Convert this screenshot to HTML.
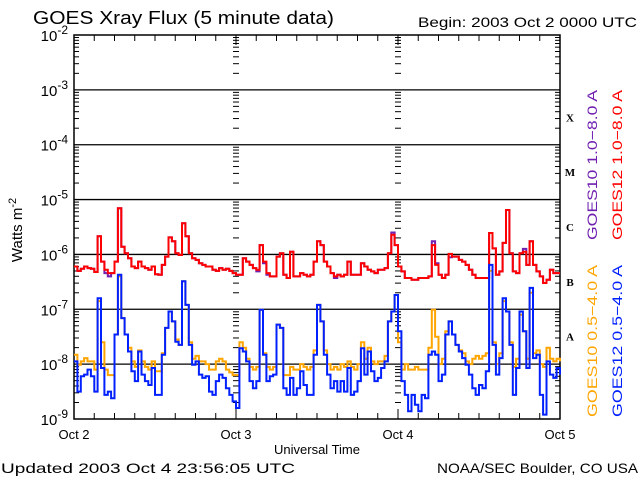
<!DOCTYPE html>
<html><head><meta charset="utf-8"><style>
html,body{margin:0;padding:0;background:#fff;}
svg{display:block;font-family:"Liberation Sans",sans-serif;}
</style></head><body>
<svg id="chart" width="640" height="480" viewBox="0 0 640 480" xmlns="http://www.w3.org/2000/svg">
<rect width="640" height="480" fill="#fff"/>
<text x="33" y="24" font-size="18" textLength="301" lengthAdjust="spacingAndGlyphs">GOES Xray Flux (5 minute data)</text>
<text x="418" y="27" font-size="14" textLength="219" lengthAdjust="spacingAndGlyphs">Begin:  2003 Oct 2 0000 UTC</text>
<text transform="translate(22,230) rotate(-90)" text-anchor="middle" font-size="15">Watts m<tspan dy="-6" font-size="11">-2</tspan></text>
<text x="317" y="454" text-anchor="middle" font-size="13">Universal Time</text>
<text x="1" y="473" font-size="14" textLength="294" lengthAdjust="spacingAndGlyphs">Updated 2003 Oct  4 23:56:05 UTC</text>
<text x="437" y="473" font-size="14" textLength="201" lengthAdjust="spacingAndGlyphs">NOAA/SEC Boulder, CO USA</text>
<text transform="translate(597,240) rotate(-90)" font-size="14" fill="#7020b0" textLength="150" lengthAdjust="spacingAndGlyphs">GOES10 1.0−8.0 A</text>
<text transform="translate(622,240) rotate(-90)" font-size="14" fill="#ff0000" textLength="150" lengthAdjust="spacingAndGlyphs">GOES12 1.0−8.0 A</text>
<text transform="translate(597,417) rotate(-90)" font-size="14" fill="#ffa500" textLength="152" lengthAdjust="spacingAndGlyphs">GOES10 0.5−4.0 A</text>
<text transform="translate(622,417) rotate(-90)" font-size="14" fill="#0020ff" textLength="152" lengthAdjust="spacingAndGlyphs">GOES12 0.5−4.0 A</text>
<g id="axes"></g>
<g id="series"></g>
</svg>
<script>
const dayLabels = ["Oct 2","Oct 3","Oct 4","Oct 5"];
const decadeExponents = [-2,-3,-4,-5,-6,-7,-8,-9];
const flareClasses = ["X","M","C","B","A"];
const flareClassExp = [-3,-4,-5,-6,-7];
const stepHours = 0.5;
const goes12Long = [-6.22,-6.30,-6.26,-6.22,-6.25,-6.26,-6.32,-5.67,-6.13,-6.28,-6.34,-6.34,-6.13,-5.16,-5.86,-5.98,-6.07,-6.22,-6.25,-6.13,-6.22,-6.25,-6.28,-6.22,-6.36,-6.37,-6.19,-6.04,-5.69,-5.76,-5.98,-6.01,-5.43,-5.67,-5.98,-6.07,-6.10,-6.16,-6.19,-6.22,-6.22,-6.28,-6.30,-6.25,-6.28,-6.26,-6.30,-6.34,
-6.37,-6.37,-6.07,-6.13,-6.19,-6.25,-6.28,-5.83,-6.13,-6.34,-6.40,-6.40,-6.04,-5.98,-6.37,-6.43,-5.95,-6.40,-6.40,-6.34,-6.37,-6.40,-6.37,-6.13,-5.76,-5.83,-6.13,-6.22,-6.34,-6.40,-6.37,-6.40,-6.37,-6.13,-6.37,-6.37,-6.37,-6.16,-6.22,-6.28,-6.31,-6.34,-6.28,-6.28,-6.25,-5.98,-5.64,-5.83,
-6.22,-6.31,-6.43,-6.43,-6.46,-6.46,-6.43,-6.43,-6.43,-6.40,-5.83,-6.19,-6.37,-6.43,-6.37,-5.99,-6.04,-6.04,-6.10,-6.13,-6.19,-6.28,-6.37,-6.43,-6.43,-6.43,-6.43,-5.61,-5.89,-6.37,-6.31,-5.79,-5.19,-5.98,-6.31,-6.34,-5.98,-5.95,-6.19,-5.76,-6.19,-6.31,-6.40,-6.52,-6.46,-6.28,-6.34,-6.34,-6.34];
const goes10Long = [-6.22,-6.30,-6.26,-6.22,-6.25,-6.26,-6.32,-5.67,-6.13,-6.34,-6.40,-6.34,-6.13,-5.16,-5.86,-5.98,-6.07,-6.22,-6.25,-6.13,-6.22,-6.25,-6.28,-6.22,-6.36,-6.37,-6.19,-6.04,-5.69,-5.76,-5.98,-6.01,-5.43,-5.67,-5.98,-6.07,-6.10,-6.16,-6.19,-6.22,-6.22,-6.28,-6.30,-6.25,-6.28,-6.26,-6.30,-6.34,
-6.37,-6.37,-6.07,-6.13,-6.19,-6.25,-6.31,-5.83,-6.16,-6.37,-6.40,-6.40,-6.04,-5.98,-6.37,-6.43,-5.95,-6.40,-6.40,-6.34,-6.37,-6.40,-6.37,-6.13,-5.76,-5.83,-6.13,-6.22,-6.34,-6.43,-6.37,-6.40,-6.37,-6.13,-6.37,-6.37,-6.37,-6.16,-6.22,-6.28,-6.31,-6.34,-6.28,-6.28,-6.25,-5.98,-5.60,-5.83,
-6.22,-6.31,-6.43,-6.43,-6.46,-6.46,-6.43,-6.43,-6.43,-6.40,-5.76,-6.16,-6.37,-6.43,-6.37,-6.05,-6.04,-6.04,-6.10,-6.13,-6.19,-6.28,-6.37,-6.43,-6.43,-6.43,-6.43,-5.61,-5.89,-6.37,-6.31,-5.79,-5.19,-5.98,-6.31,-6.34,-5.98,-5.90,-6.19,-5.76,-6.19,-6.31,-6.40,-6.52,-6.46,-6.28,-6.34,-6.34,-6.34];
const goes10Short = [-7.83,-8.01,-7.95,-7.89,-7.95,-7.95,-8.10,-6.85,-7.60,-8.10,-8.20,-8.20,-7.46,-6.40,-7.16,-7.46,-7.70,-7.95,-8.05,-7.75,-7.95,-8.05,-8.10,-7.95,-8.13,-8.13,-7.80,-7.34,-7.04,-7.22,-7.55,-7.65,-6.49,-6.92,-7.60,-7.90,-7.85,-7.95,-7.95,-8.00,-8.10,-8.10,-7.95,-7.90,-7.95,-8.10,-8.15,-8.20,
-8.20,-7.60,-7.70,-7.90,-8.05,-8.10,-8.05,-7.01,-7.80,-8.05,-8.10,-8.05,-7.28,-7.34,-8.20,-8.20,-8.05,-8.10,-8.10,-8.00,-8.05,-8.10,-8.05,-7.75,-6.92,-7.22,-7.75,-8.00,-8.10,-8.05,-8.10,-8.00,-8.05,-7.95,-8.05,-8.10,-8.00,-7.60,-7.90,-7.70,-7.95,-8.00,-7.95,-7.95,-7.85,-7.22,-7.04,-6.74,
-7.60,-8.10,-8.00,-8.10,-8.10,-8.05,-8.10,-8.10,-8.10,-7.70,-7.01,-7.50,-8.00,-7.90,-7.40,-7.22,-7.46,-7.65,-7.75,-7.80,-7.95,-8.00,-7.90,-7.85,-7.90,-7.85,-7.80,-6.30,-7.60,-8.00,-7.80,-6.85,-7.04,-7.60,-8.05,-7.90,-7.10,-7.40,-7.90,-6.70,-7.80,-7.75,-8.00,-8.05,-7.70,-7.90,-7.95,-7.90,-7.95];
const goes12Short = [-7.95,-8.50,-8.22,-8.19,-8.10,-8.22,-8.50,-6.80,-8.07,-8.56,-8.50,-8.62,-7.46,-6.37,-7.16,-7.46,-7.77,-8.13,-8.31,-7.77,-8.19,-8.31,-8.38,-8.07,-8.56,-8.56,-7.83,-7.34,-7.04,-7.22,-7.59,-7.65,-6.49,-6.92,-7.65,-8.01,-7.95,-8.19,-8.25,-8.22,-8.50,-8.56,-8.31,-8.19,-8.25,-8.44,-8.56,-8.68,
-8.80,-7.71,-7.77,-7.95,-8.31,-8.44,-8.31,-7.01,-7.83,-8.31,-8.22,-8.19,-7.28,-7.34,-8.44,-8.56,-8.25,-8.56,-8.44,-8.13,-8.38,-8.56,-8.56,-7.83,-6.92,-7.22,-7.83,-8.19,-8.44,-8.31,-8.50,-8.31,-8.50,-8.07,-8.56,-8.50,-8.31,-7.71,-8.19,-7.77,-8.13,-8.31,-8.25,-8.07,-7.95,-7.22,-7.04,-6.74,
-7.40,-8.31,-8.56,-8.86,-8.56,-8.74,-8.86,-8.56,-8.62,-7.83,-7.77,-7.83,-8.31,-8.19,-7.46,-7.22,-7.46,-7.65,-7.77,-7.89,-8.01,-8.19,-8.44,-8.56,-8.38,-8.44,-8.13,-6.19,-7.65,-8.19,-7.89,-6.80,-7.04,-7.65,-8.56,-8.07,-7.04,-7.40,-8.07,-6.61,-7.89,-7.83,-8.56,-8.92,-7.95,-8.19,-8.25,-8.07,-8.19];

const NS="http://www.w3.org/2000/svg";
const L=74,R=560,T=35,B=419,HOURS=72;
function xs(h){return L+(R-L)*h/HOURS;}
function ys(e){return T+(B-T)*(-2-e)/7;}
function mk(tag,attrs,parent){const el=document.createElementNS(NS,tag);for(const k in attrs)el.setAttribute(k,attrs[k]);parent.appendChild(el);return el;}
const axes=document.getElementById('axes'), series=document.getElementById('series');

const frame=mk('rect',{x:L,y:T,width:R-L,height:B-T,fill:'none',stroke:'#000','stroke-width':1.5},axes);



decadeExponents.forEach((e,i)=>{
  const y=ys(e);
  if(e<-2&&e>-9){
    const gl=mk('line',{x1:L,x2:R,y1:y,y2:y,stroke:'#000','stroke-width':1.3},axes);
    
    
  }
  const t=mk('text',{x:68,y:y+6,'text-anchor':'end','font-size':15},axes);
  
  
  t.innerHTML='10<tspan dy="-7" font-size="12">'+e+'</tspan>';
  if(e>-9){
    for(let m=2;m<=9;m++){
      const ym=ys(e-1+Math.log10(m));
      [[L,L+5],[R-5,R],[xs(24)-3,xs(24)+3],[xs(48)-3,xs(48)+3]].forEach(p=>{
        const tk=mk('line',{x1:p[0],x2:p[1],y1:ym,y2:ym,stroke:'#000','stroke-width':1},axes);
        
        
      });
    }
  }
});
for(let h=3;h<HOURS;h+=3){
  const x=xs(h), len=(h%24===0)?10:6;
  const a=mk('line',{x1:x,x2:x,y1:B,y2:B-len,stroke:'#000','stroke-width':1},axes);
  
  
  const b=mk('line',{x1:x,x2:x,y1:T,y2:T+len,stroke:'#000','stroke-width':1},axes);
  
  
}
dayLabels.forEach((d,i)=>{
  const t=mk('text',{x:xs(i*24),y:439,'text-anchor':'middle','font-size':13},axes);
  
  
  t.textContent=d;
});
flareClasses.forEach((c,i)=>{
  const t=mk('text',{x:570,y:ys(flareClassExp[i]-0.5)+4,'text-anchor':'middle','font-size':11,'font-weight':'bold','font-family':'Liberation Serif, serif'},axes);
  
  
  t.textContent=c;
});

function draw(arr,color,name){
  const pts=[];
  arr.forEach((v,i)=>{
    const y=ys(v).toFixed(1);
    pts.push(xs(i*stepHours).toFixed(1)+','+y);
    const nx=Math.min(xs((i+1)*stepHours),R);
    pts.push(nx.toFixed(1)+','+y);
  });
  const p=mk('polyline',{points:pts.join(' '),fill:'none',stroke:color,'stroke-width':2,'stroke-linejoin':'miter'},series);
  
  
}
draw(goes10Long,'#7020b0','series-goes10-long');
draw(goes12Long,'#ff0000','series-goes12-long');
draw(goes10Short,'#ffa500','series-goes10-short');
draw(goes12Short,'#0020ff','series-goes12-short');
</script>
</body></html>
